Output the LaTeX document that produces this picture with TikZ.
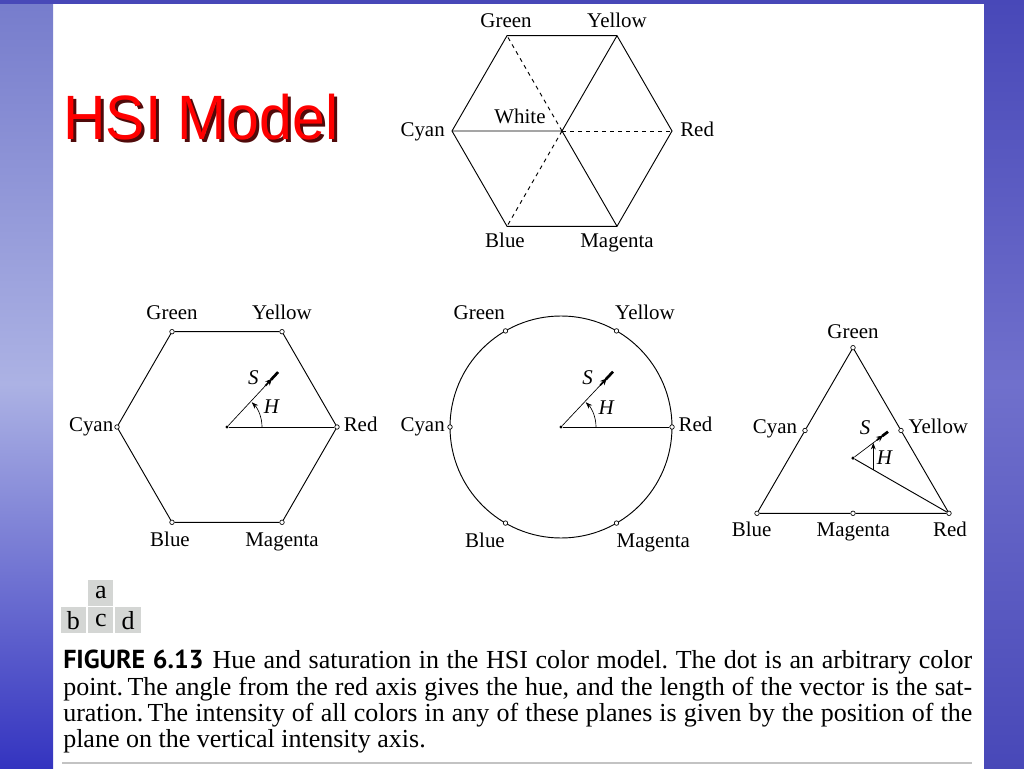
\documentclass[tikz,border=0pt]{standalone}
\usepackage{fontspec}
\setmainfont{Liberation Serif}
\newfontfamily\capsans{PT Sans}
\newfontfamily\titlesans[FakeStretch=0.94]{Liberation Sans}
\usetikzlibrary{arrows.meta,calc}
\definecolor{titlered}{RGB}{255,0,0}
\definecolor{titleshade}{RGB}{80,10,10}
\definecolor{seahigh}{RGB}{118,124,204}
\definecolor{seamid}{RGB}{172,178,228}
\definecolor{sealow}{RGB}{52,52,192}
\definecolor{seadark}{RGB}{72,72,184}
\definecolor{sealight}{RGB}{112,112,204}
\definecolor{boxgray}{RGB}{212,214,212}
\definecolor{rulegray}{RGB}{195,195,195}
\begin{document}
\begin{tikzpicture} [x=0.75pt, y=0.75pt, every node/.style={inner sep=0pt},
                edge_style/.style={draw=black, line width=0.7pt},
                lbl/.style={font=\fontsize{15.7}{18}\selectfont},
                vtx/.style={circle, draw, fill=white, minimum size=3.4pt, line width=0.5pt},
                ctr/.style={circle, fill=black, minimum size=2.6pt},
                spear/.style={line width=1.3pt, -{Stealth[length=5pt, width=4.5pt]}},
                harc/.style={line width=0.5pt, -{Stealth[length=5pt, width=3.6pt]}},
                title/.style={font=\titlesans\fontsize{47}{50}\selectfont},
                capline/.style={font=\fontsize{19.5}{20}\selectfont\frenchspacing, anchor=base west},
                subbox/.style={fill=boxgray, minimum width=18.8pt, minimum height=19.5pt, font=\fontsize{19.5}{20}\selectfont}]
                \tikzset{dash edge/.style={draw=black, dashed, line width=0.7pt}}
                \useasboundingbox (0,0) rectangle (1024,768);
                \shade [top color=seahigh, bottom color=sealow, middle color=seamid] (0,0) rectangle (53,768);
                \shade [top color=seadark, bottom color=seadark, middle color=sealight] (984,0) rectangle (1024,768);
                \fill [seadark] (0,764) rectangle (1024,768);
                \node [title, anchor=base west] (title) at (63,628) {\rlap{\hspace{2.2pt}\raisebox{-2.2pt}{\color{titleshade}HSI Model}}\color{titlered}HSI Model};

                \coordinate (aW) at (562,637);
                \coordinate (aR) at (672,637);
                \coordinate (aY) at (617,732.3);
                \coordinate (aG) at (507,732.3);
                \coordinate (aC) at (452,637);
                \coordinate (aB) at (507,541.7);
                \coordinate (aM) at (617,541.7);
                \draw [edge_style] (aG) -- (aY) -- (aR) -- (aM) -- (aB) -- (aC) -- cycle;
                \draw [edge_style] (aC) -- (aW) -- (aY);
                \draw [edge_style] (aW) -- (aM);
                \draw [dash edge] (aW) -- (aG);
                \draw [dash edge] (aW) -- (aR);
                \draw [dash edge] (aW) -- (aB);
                \node [lbl, anchor=base] (aGl) at (506,740) {Green};
                \node [lbl, anchor=base] (aYl) at (617,740) {Yellow};
                \node [lbl, anchor=base west] (aRl) at (680,631.5) {Red};
                \node [lbl, anchor=base east] (aCl) at (445,631.5) {Cyan};
                \node [lbl, anchor=base] (aWl) at (520,644) {White};
                \node [lbl, anchor=base] (aBl) at (505,520) {Blue};
                \node [lbl, anchor=base] (aMl) at (617,520) {Magenta};

                \node [vtx] (bR) at (337,341) {};
                \node [vtx] (bY) at (282,436.3) {};
                \node [vtx] (bG) at (172,436.3) {};
                \node [vtx] (bC) at (117,341) {};
                \node [vtx] (bB) at (172,245.7) {};
                \node [vtx] (bM) at (282,245.7) {};
                \node [ctr] (bc) at (227,341) {};
                \coordinate (bS) at (278.1,395.9);
                \draw [edge_style] (bG) -- (bY) -- (bR) -- (bM) -- (bB) -- (bC) -- (bG);
                \draw [edge_style] (bc) -- (bR);
                \draw [line width=0.5pt] (bc) -- ($(bc)!0.75!(bS)$);
                \draw [spear] ($(bc)!0.75!(bS)$) -- ($(bc)!0.88!(bS)$);
                \draw [line width=2pt] ($(bc)!0.86!(bS)$) -- (bS);
                \draw [harc] ([shift={(0:35)}]bc.center) arc [start angle=0, end angle=45, radius=35];
                \node [lbl, anchor=base] (bGl) at (172,448) {Green};
                \node [lbl, anchor=base] (bYl) at (282,448) {Yellow};
                \node [lbl, anchor=base east] (bCl) at (113.5,336.3) {Cyan};
                \node [lbl, anchor=base west] (bRl) at (343.5,336.3) {Red};
                \node [lbl, anchor=base] (bBl) at (170,222) {Blue};
                \node [lbl, anchor=base] (bMl) at (282,222) {Magenta};
                \node [lbl, anchor=base] (bSl) at (253.3,383) {\textit{S}};
                \node [lbl, anchor=base] (bHl) at (272,354) {\textit{H}};

                \coordinate (cc0) at (561,341);
                \draw [edge_style] (cc0) circle [radius=111];
                \node [vtx] (cR) at (672,341) {};
                \node [vtx] (cY) at (616.5,437.1) {};
                \node [vtx] (cG) at (505.5,437.1) {};
                \node [vtx] (cC) at (450,341) {};
                \node [vtx] (cB) at (505.5,244.9) {};
                \node [vtx] (cM) at (616.5,244.9) {};
                \node [ctr] (cc) at (cc0) {};
                \coordinate (cS) at (613,396.3);
                \draw [edge_style] (cc) -- (cR);
                \draw [line width=0.5pt] (cc) -- ($(cc)!0.75!(cS)$);
                \draw [spear] ($(cc)!0.75!(cS)$) -- ($(cc)!0.88!(cS)$);
                \draw [line width=2pt] ($(cc)!0.86!(cS)$) -- (cS);
                \draw [harc] ([shift={(0:35)}]cc.center) arc [start angle=0, end angle=45, radius=35];
                \node [lbl, anchor=base] (cGl) at (479.3,448) {Green};
                \node [lbl, anchor=base] (cYl) at (645,448) {Yellow};
                \node [lbl, anchor=base east] (cCl) at (445,336.3) {Cyan};
                \node [lbl, anchor=base west] (cRl) at (678.3,336.3) {Red};
                \node [lbl, anchor=base] (cBl) at (485,221) {Blue};
                \node [lbl, anchor=base] (cMl) at (653.3,221) {Magenta};
                \node [lbl, anchor=base] (cSl) at (587.7,383.7) {\textit{S}};
                \node [lbl, anchor=base] (cHl) at (606.7,353.7) {\textit{H}};

                \node [vtx] (dG) at (853,420.3) {};
                \node [vtx] (dC) at (805,337.5) {};
                \node [vtx] (dY) at (901,337.5) {};
                \node [vtx] (dB) at (757,254.7) {};
                \node [vtx] (dM) at (853,254.7) {};
                \node [vtx] (dR) at (949,254.7) {};
                \node [ctr] (dc) at (853,309.9) {};
                \coordinate (dS) at (888,336.3);
                \coordinate (dHa) at (873.3,298.2);
                \coordinate (dHb) at (873.3,325.2);
                \draw [edge_style] (dG) -- (dY) -- (dR) -- (dM) -- (dB) -- (dC) -- (dG);
                \draw [edge_style] (dc) -- (dR);
                \draw [line width=0.5pt] (dc) -- ($(dc)!0.68!(dS)$);
                \draw [spear] ($(dc)!0.68!(dS)$) -- ($(dc)!0.86!(dS)$);
                \draw [line width=2pt] ($(dc)!0.83!(dS)$) -- (dS);
                \draw [harc] (dHa) -- (dHb);
                \node [lbl, anchor=base] (dGl) at (853,429.7) {Green};
                \node [lbl, anchor=base east] (dCl) at (797.3,334.7) {Cyan};
                \node [lbl, anchor=base west] (dYl) at (908.3,334.7) {Yellow};
                \node [lbl, anchor=base] (dBl) at (751.7,231.3) {Blue};
                \node [lbl, anchor=base] (dMl) at (853.3,231.3) {Magenta};
                \node [lbl, anchor=base] (dRl) at (950,231.3) {Red};
                \node [lbl, anchor=base] (dSl) at (865,333) {\textit{S}};
                \node [lbl, anchor=base] (dHl) at (885,303) {\textit{H}};

                \node [subbox] (sa) at (100.8,175) {a};
                \node [subbox] (sb) at (73.3,147.7) {b};
                \node [subbox] (sc) at (100.8,147.7) {c};
                \node [subbox] (sd) at (128,147.7) {d};

                \node [capline] (cap1) at (63,99.5) {\makebox[681.75pt][s]{{\capsans\bfseries FIGURE 6.13}\hspace{0.35em}Hue and saturation in the HSI color model. The dot is an arbitrary color}};
                \node [capline] (cap2) at (63,73) {\makebox[681.75pt][s]{point.\,The angle from the red axis gives the hue, and the length of the vector is the sat-}};
                \node [capline] (cap3) at (63,46.6) {\makebox[681.75pt][s]{uration.\,The intensity of all colors in any of these planes is given by the position of the}};
                \node [capline] (cap4) at (63,20.2) {plane on the vertical intensity axis.};
                \draw [rulegray, line width=1.5pt] (62,5.3) -- (972,5.3);
            \end{tikzpicture}
\end{document}
